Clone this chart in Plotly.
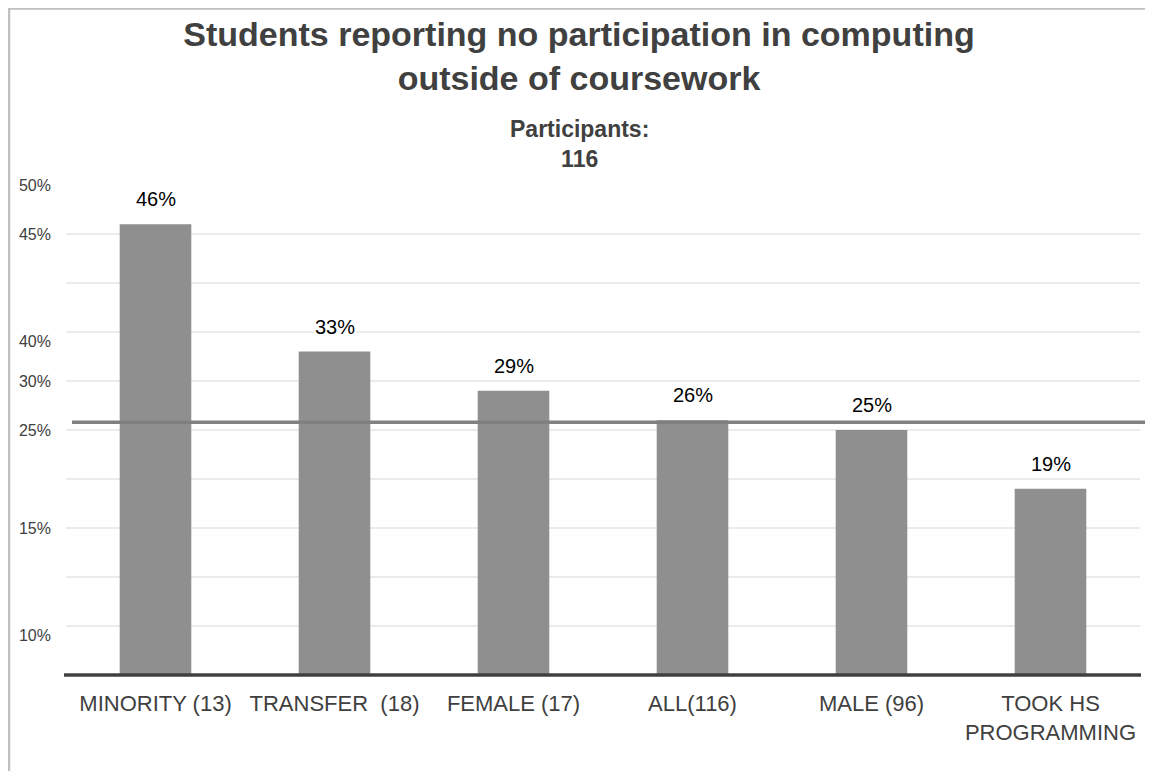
import plotly.graph_objects as go

# ---- data ----
categories = ["MINORITY (13)", "TRANSFER  (18)", "FEMALE (17)", "ALL(116)", "MALE (96)", "TOOK HS<br>PROGRAMMING"]
values = [46, 33, 29, 26, 25, 19]
value_labels = ["46%", "33%", "29%", "26%", "25%", "19%"]
ref_value = 25.8
ytick_labels = ["50%", "45%", "40%", "30%", "25%", "15%", "10%"]
ytick_vals = [50, 45, 34, 30, 25, 15, 4]
title_text = "Students reporting no participation in computing<br>outside of coursework"
subtitle_text = "Participants:<br>116"

# ---- layout geometry (figure pixels; page has an 8px body margin) ----
OFF = 8
W, H = 1153 - 2 * OFF, 779 - 2 * OFF
L, R, T, B = 66 - OFF, 5, 185 - OFF, 96
PW, PH = W - L - R, H - T - B

def px_x(p):  # page pixel -> paper x
    return (p - OFF - L) / PW

def px_y(p):  # page pixel -> paper y
    return (H - B - (p - OFF)) / PH

FONT = "Liberation Sans, Arial, sans-serif"

fig = go.Figure()
fig.add_trace(go.Bar(
    x=categories, y=values, width=0.4,
    marker=dict(color="#8f8f8f", line=dict(width=0)),
    hoverinfo="skip", showlegend=False,
))
fig.add_trace(go.Scatter(x=[categories[0]], y=[0], yaxis="y2", mode="markers",
                         marker=dict(opacity=0), hoverinfo="skip", showlegend=False))

for c, v, t in zip(categories, values, value_labels):
    fig.add_annotation(x=c, y=v, text=t, showarrow=False, yshift=25,
                       font=dict(family=FONT, size=20, color="#000000"),
                       bgcolor="white", borderpad=1)

shapes = []
shapes.append(dict(type="line", xref="paper", yref="y", x0=px_x(72), x1=px_x(1146),
                   y0=ref_value, y1=ref_value, line=dict(color="#808080", width=3.5), layer="above"))
# baseline (paper ref so it's not clipped)
shapes.append(dict(type="line", xref="paper", yref="paper", x0=px_x(64), x1=px_x(1141),
                   y0=0, y1=0, line=dict(color="#404040", width=3.5), layer="above"))
shapes.append(dict(type="line", xref="paper", yref="paper", x0=px_x(8), x1=px_x(1153),
                   y0=px_y(8.5), y1=px_y(8.5), line=dict(color="#c0c0c0", width=2.5)))
shapes.append(dict(type="line", xref="paper", yref="paper", x0=px_x(9), x1=px_x(9),
                   y0=px_y(8), y1=px_y(779), line=dict(color="#c0c0c0", width=2.5)))

fig.add_annotation(xref="paper", yref="paper", x=px_x(579), y=px_y(144),
                   xanchor="center", yanchor="middle",
                   text="<b>" + subtitle_text + "</b>", showarrow=False, align="center",
                   font=dict(family=FONT, size=23, color="#404040"))

fig.update_layout(
    width=W, height=H,
    margin=dict(l=L, r=R, t=T, b=B),
    paper_bgcolor="white", plot_bgcolor="white",
    title=dict(text="<b>" + title_text + "</b>", x=(579 - OFF) / W, xanchor="center",
               y=1 - 38 / H, yanchor="middle",
               font=dict(family=FONT, size=34, color="#404040")),
    xaxis=dict(showgrid=False, showline=False, ticks="", zeroline=False,
               tickfont=dict(family=FONT, size=22, color="#404040"),
               ticklabelstandoff=13,
               range=[-0.5, 5.5]),
    yaxis=dict(range=[0, 50], dtick=5, showgrid=True, gridcolor="#ebebeb", gridwidth=1.5,
               showticklabels=False, zeroline=False, showline=False),
    yaxis2=dict(range=[0, 50], overlaying="y", side="left", tickvals=ytick_vals,
                ticktext=ytick_labels, showgrid=False, zeroline=False, showline=False,
                ticks="", ticklabelstandoff=14,
                tickfont=dict(family=FONT, size=16, color="#404040")),
    shapes=shapes,
    bargap=0.6,
)

fig.write_html("out.html")
